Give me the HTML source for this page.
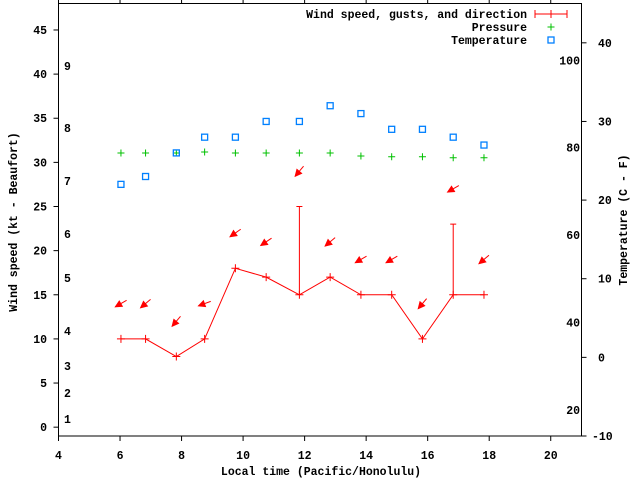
<!DOCTYPE html>
<html><head><meta charset="utf-8"><style>
html,body{margin:0;padding:0;background:#fff;}
svg{display:block;}
text{font-family:"Liberation Mono",monospace;font-weight:bold;font-size:11.5px;fill:#000;}
</style></head><body>
<svg id="chart" width="640" height="480" viewBox="0 0 640 480" xmlns="http://www.w3.org/2000/svg">
<rect x="0" y="0" width="640" height="480" fill="#fff"/>
<g id="axes"></g>
<g id="marks"></g>
<g id="legend">
<text x="527" y="18" text-anchor="end">Wind speed, gusts, and direction</text>
<line x1="535" y1="14" x2="567" y2="14" stroke="#f00" stroke-width="1"/>
<line x1="535" y1="10" x2="535" y2="18" stroke="#f00"/>
<line x1="567" y1="10" x2="567" y2="18" stroke="#f00"/>
<line x1="551" y1="10" x2="551" y2="18" stroke="#f00"/>
<text x="527" y="31" text-anchor="end">Pressure</text>
<path d="M547.5 27h7M551 23.5v7" stroke="#00c000" fill="none"/>
<text x="527" y="44" text-anchor="end">Temperature</text>
<rect x="548" y="37" width="6" height="6" fill="none" stroke="#0080ff" stroke-width="1.3"/>
</g>
<text x="321" y="475" text-anchor="middle">Local time (Pacific/Honolulu)</text>
<text transform="translate(17,222) rotate(-90)" text-anchor="middle">Wind speed (kt - Beaufort)</text>
<text transform="translate(627,220) rotate(-90)" text-anchor="middle">Temperature (C - F)</text>
</svg>
<script>
const times = [6.03, 6.83, 7.83, 8.75, 9.75, 10.75, 11.83, 12.83, 13.83, 14.83, 15.83, 16.83, 17.83];
const windSpeed = [10, 10, 8, 10, 18, 17, 15, 17, 15, 15, 10, 15, 15];
const windGust = [null, null, null, null, null, null, 25, null, null, null, null, 23, null];
const windDir = [60, 50, 40, 70, 55, 56, 40, 50, 60, 60, 40, 60, 50];
const pressure = [31.06, 31.06, 31.06, 31.17, 31.06, 31.06, 31.06, 31.06, 30.72, 30.64, 30.64, 30.53, 30.53];
const temperatureC = [22, 23, 26, 28, 28, 30, 30, 32, 31, 29, 29, 28, 27];
const xTicks = [4, 6, 8, 10, 12, 14, 16, 18, 20];
const yTicks = [0, 5, 10, 15, 20, 25, 30, 35, 40, 45];
const y2Ticks = [-10, 0, 10, 20, 30, 40];
const fahrenheitLabels = [20, 40, 60, 80, 100];
const beaufortLabels = [1, 2, 3, 4, 5, 6, 7, 8, 9];
const beaufortKt = [0.94, 3.9, 6.95, 10.9, 16.9, 21.9, 27.9, 33.9, 40.9];

const L = 58.5, R = 581.5, T = 3.5, B = 436;
const xMin = 4, xMax = 21, yMin = -1, yMax = 48, y2Min = -10, y2Max = 45;
const X = v => L + (v - xMin) / (xMax - xMin) * (R - L);
const Y = v => B - (v - yMin) / (yMax - yMin) * (B - T);
const Y2 = v => B - (v - y2Min) / (y2Max - y2Min) * (B - T);
const NS = 'http://www.w3.org/2000/svg';
const axes = document.getElementById('axes');
const marks = document.getElementById('marks');
function mk(tag, attrs, parent) {
  const e = document.createElementNS(NS, tag);
  for (const k in attrs) e.setAttribute(k, attrs[k]);
  parent.appendChild(e);
  return e;
}
let e = mk('rect', {x: L, y: T, width: R - L, height: B - T, fill: 'none', stroke: '#000', 'stroke-width': 1}, axes);


xTicks.forEach(v => {
  const px = X(v);
  let t = mk('path', {d: `M${px} ${B}v5M${px} ${T}v-5`, stroke: '#000'}, axes);
  
  
  let l = mk('text', {x: px, y: 459, 'text-anchor': 'middle'}, axes);
  l.textContent = v;
  
  
});
yTicks.forEach(v => {
  const py = Y(v);
  let t = mk('path', {d: `M${L} ${py}h-5`, stroke: '#000'}, axes);
  
  
  let l = mk('text', {x: 47, y: py + 4, 'text-anchor': 'end'}, axes);
  l.textContent = v;
  
  
});
y2Ticks.forEach(v => {
  const py = Y2(v);
  let t = mk('path', {d: `M${R} ${py}h5`, stroke: '#000'}, axes);
  
  
  let l = mk('text', {x: v < 0 ? 592 : 598, y: py + 4, 'text-anchor': 'start'}, axes);
  l.textContent = v;
  
  
});
fahrenheitLabels.forEach(f => {
  const c = (f - 32) * 5 / 9;
  let l = mk('text', {x: 580, y: Y2(c) + 4, 'text-anchor': 'end'}, axes);
  l.textContent = f;
  
  
});
beaufortLabels.forEach((b, i) => {
  let l = mk('text', {x: 64, y: Y(beaufortKt[i]) + 4, 'text-anchor': 'start'}, axes);
  l.textContent = b;
  
  
});
// wind line
let pts = times.map((t, i) => X(t) + ',' + Y(windSpeed[i])).join(' ');
let line = mk('polyline', {points: pts, fill: 'none', stroke: '#f00', 'stroke-width': 1}, marks);


times.forEach((t, i) => {
  const px = X(t), py = Y(windSpeed[i]);
  let p = mk('path', {d: `M${px - 4} ${py}h8M${px} ${py - 4}v8`, stroke: '#f00'}, marks);
  
  
  if (windGust[i] != null) {
    const gy = Y(windGust[i]);
    let g = mk('path', {d: `M${px} ${py}V${gy}M${px - 3} ${gy}h6`, stroke: '#f00'}, marks);
    
    
  }
  // direction arrow
  const top = windGust[i] != null ? windGust[i] : windSpeed[i];
  const cy = Y(top + 4);
  const th = windDir[i] * Math.PI / 180;
  const ux = -Math.sin(th), uy = Math.cos(th), len = 13;
  const hx = px + ux * len / 2, hy = cy + uy * len / 2;
  const tx = px - ux * len / 2, ty = cy - uy * len / 2;
  const a1 = Math.atan2(uy, ux);
  const hl = 7, spread = 0.45;
  const b1x = hx - hl * Math.cos(a1 - spread), b1y = hy - hl * Math.sin(a1 - spread);
  const b2x = hx - hl * Math.cos(a1 + spread), b2y = hy - hl * Math.sin(a1 + spread);
  let a = mk('path', {d: `M${tx} ${ty}L${hx} ${hy}`, stroke: '#f00', fill: 'none'}, marks);
  
  
  let h = mk('path', {d: `M${hx} ${hy}L${b1x} ${b1y}L${b2x} ${b2y}Z`, fill: '#f00', stroke: '#f00'}, marks);
  
  
});
times.forEach((t, i) => {
  const px = X(t), py = Y(pressure[i]);
  let p = mk('path', {d: `M${px - 3.5} ${py}h7M${px} ${py - 3.5}v7`, stroke: '#00c000'}, marks);
  
  
});
times.forEach((t, i) => {
  const px = X(t), py = Y2(temperatureC[i]);
  let s = mk('rect', {x: px - 3, y: py - 3, width: 6, height: 6, fill: 'none', stroke: '#0080ff', 'stroke-width': 1.3}, marks);
  
  
});
</script>
</body></html>
